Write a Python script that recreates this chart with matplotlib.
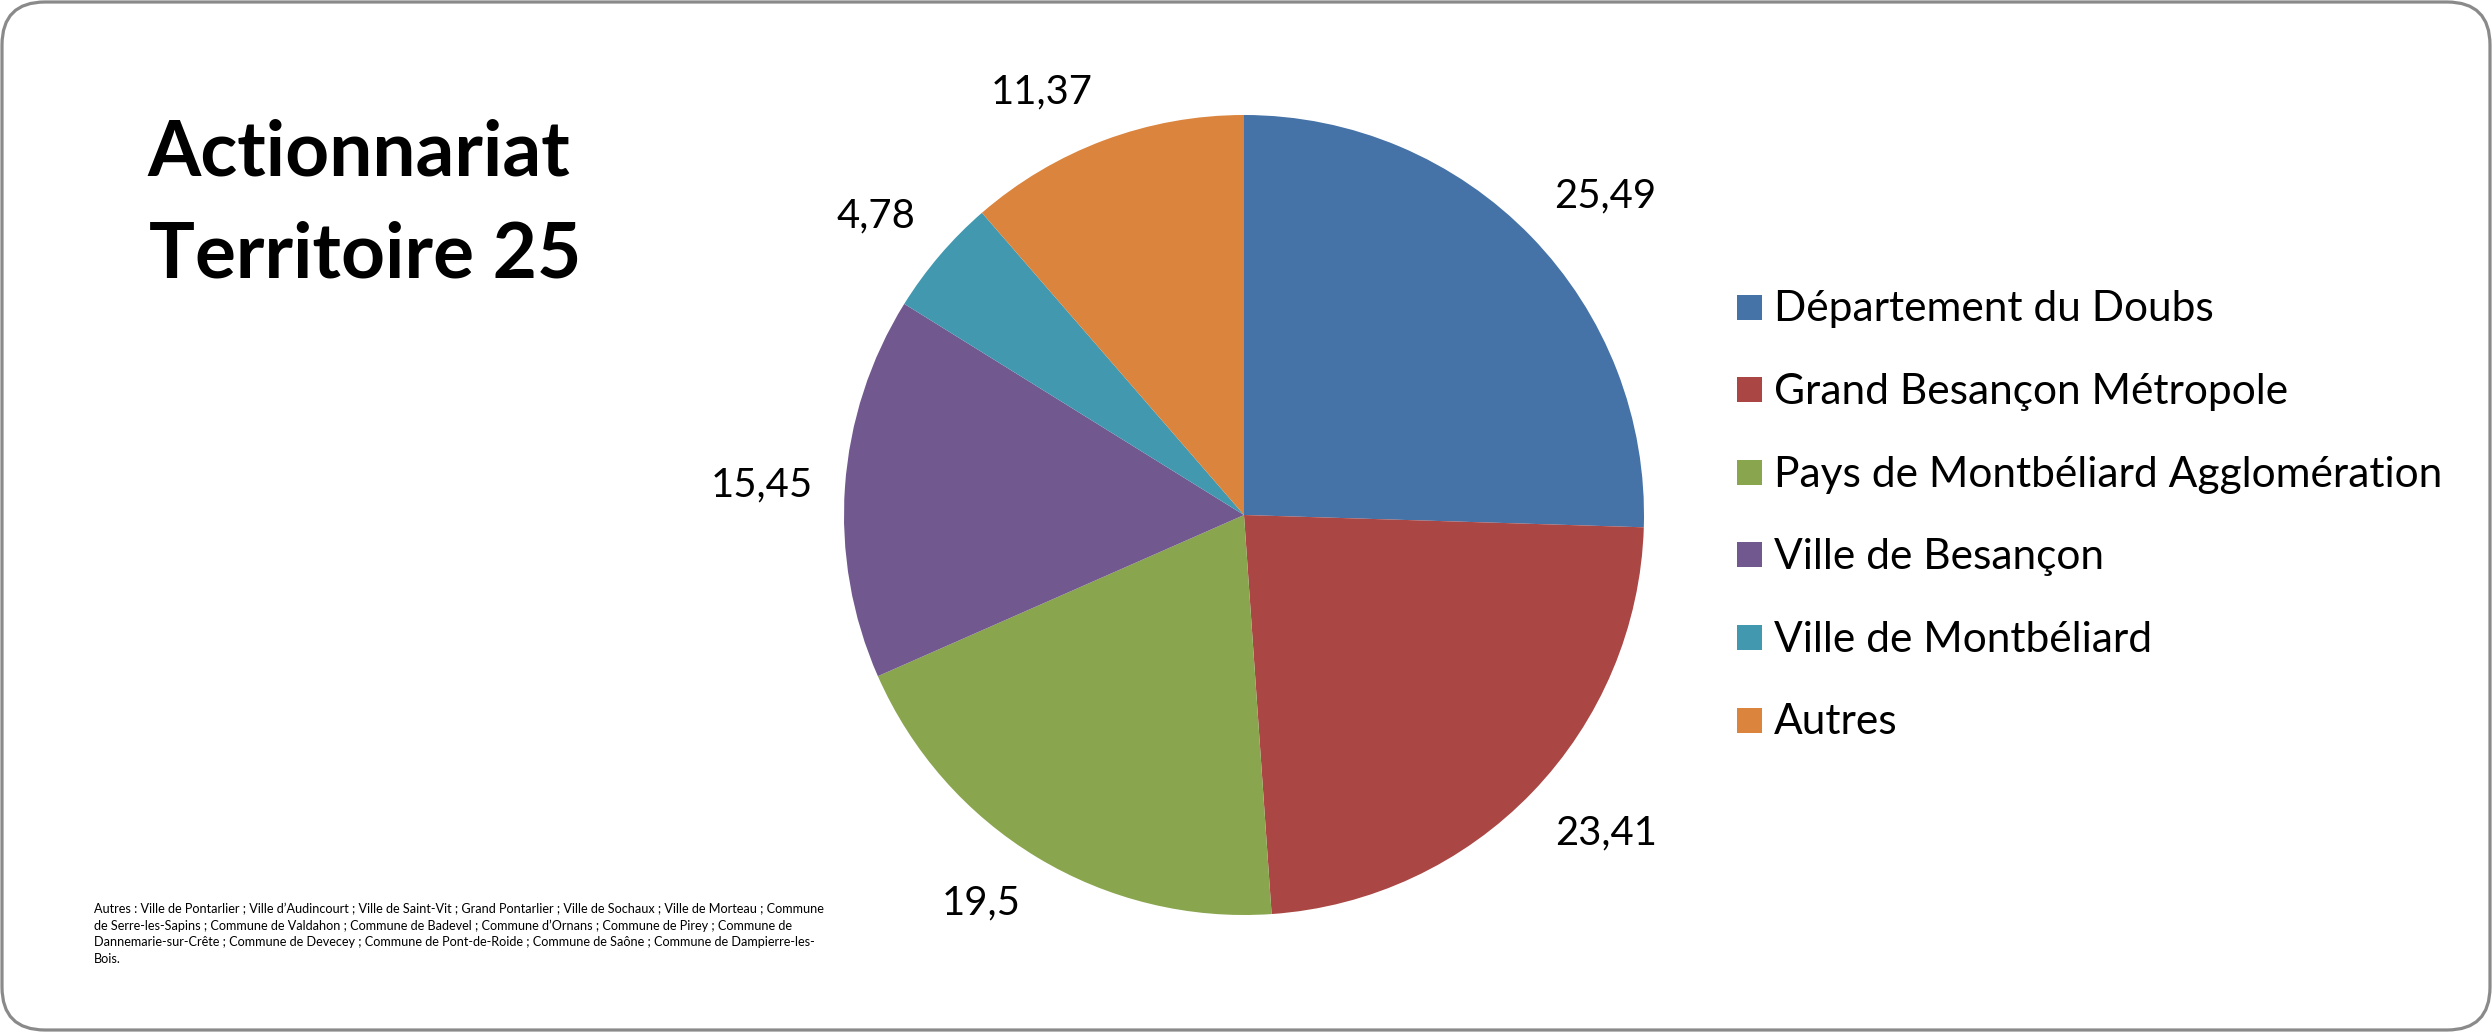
import math
import matplotlib
matplotlib.use("Agg")
import matplotlib.pyplot as plt
from matplotlib.patches import FancyBboxPatch, Rectangle
from matplotlib.transforms import IdentityTransform

# ---- data ----
categories = ["Département du Doubs", "Grand Besançon Métropole",
              "Pays de Montbéliard Agglomération", "Ville de Besançon",
              "Ville de Montbéliard", "Autres"]
values = [25.49, 23.41, 19.5, 15.45, 4.78, 11.37]
colors = ["#4572A7", "#AA4643", "#89A54E", "#71588F", "#4198AF", "#DB843D"]
title_lines = ["Actionnariat", "Territoire 25"]
footnote_lines = [
    "Autres : Ville de Pontarlier ; Ville d\u2019Audincourt ; Ville de Saint-Vit ; Grand Pontarlier ; Ville de Sochaux ; Ville de Morteau ; Commune",
    "de Serre-les-Sapins ; Commune de Valdahon ; Commune de Badevel ; Commune d\u2019Ornans ; Commune de Pirey ; Commune de",
    "Dannemarie-sur-Crête ; Commune de Devecey ; Commune de Pont-de-Roide ; Commune de Saône ; Commune de Dampierre-les-",
    "Bois.",
]

def fmt(v):
    s = ("%g" % v)
    return s.replace(".", ",")

W, H, DPI = 2492, 1032, 100
plt.rcParams['font.family'] = ['Lato', 'DejaVu Sans']
fig = plt.figure(figsize=(W / DPI, H / DPI), dpi=DPI)
fig.patch.set_facecolor("white")

def fx(px):
    return px / W

def fy(py):
    return 1 - py / H

renderer = fig.canvas.get_renderer()

def fit(t, target_w):
    w = t.get_window_extent(renderer).width
    t.set_fontsize(t.get_fontsize() * target_w / w)
    return t.get_fontsize()

# ---- border ----
border = FancyBboxPatch((2, 2), W - 4, H - 4,
                        boxstyle="round,pad=0,rounding_size=43",
                        transform=IdentityTransform(), facecolor="none",
                        edgecolor="#8a8a8a", linewidth=2.3, zorder=0)
fig.add_artist(border)

# ---- pie ----
cx, cy, R = 1244, 515, 400
ax = fig.add_axes([fx(cx - R), fy(cy + R), 2 * R / W, 2 * R / H])
wedges, _ = ax.pie(values, colors=colors, startangle=90, counterclock=False,
                   wedgeprops=dict(linewidth=0))
ax.set_xlim(-1, 1)
ax.set_ylim(-1, 1)
ax.set_aspect("equal")
ax.axis("off")

# data labels placed just outside the pie, anchored on the side facing it
labels = []
for w, v in zip(wedges, values):
    th = math.radians((w.theta1 + w.theta2) / 2)
    c, s = math.cos(th), math.sin(th)
    ha = "left" if c > 0.15 else ("right" if c < -0.15 else "center")
    va = "bottom" if s > 0.3 else ("top" if s < -0.3 else "center")
    labels.append(ax.text(1.08 * c, 1.08 * s, fmt(v), ha=ha, va=va,
                          fontsize=28, color="black"))
fit(labels[0], 102)
for t in labels[1:]:
    t.set_fontsize(labels[0].get_fontsize())

# ---- title ----
t1 = fig.text(fx(147), fy(175), title_lines[0], fontsize=52, fontweight="bold",
              ha="left", va="baseline")
fs = fit(t1, 423)
fig.text(fx(149), fy(277), title_lines[1], fontsize=fs, fontweight="bold",
         ha="left", va="baseline")

# ---- legend (manual) ----
sq = 25
row0, rowstep = 307, 82.6
ltexts = []
for i, (name, col) in enumerate(zip(categories, colors)):
    yc = row0 + i * rowstep
    fig.add_artist(Rectangle((1737, H - (yc + sq / 2)), sq, sq,
                             transform=IdentityTransform(),
                             facecolor=col, edgecolor="none"))
    ltexts.append(fig.text(fx(1774), fy(yc + 14.5), name, fontsize=29,
                           ha="left", va="baseline"))
lfs = fit(ltexts[0], 440)
for t in ltexts[1:]:
    t.set_fontsize(lfs)

# ---- footnote ----
ftexts = []
for j, line in enumerate(footnote_lines):
    ftexts.append(fig.text(fx(94), fy(913 + j * 16.7), line, fontsize=9,
                           ha="left", va="baseline"))
ffs = fit(ftexts[0], 736)
for t in ftexts[1:]:
    t.set_fontsize(ffs)

fig.savefig("out.png", dpi=DPI, facecolor="white")
